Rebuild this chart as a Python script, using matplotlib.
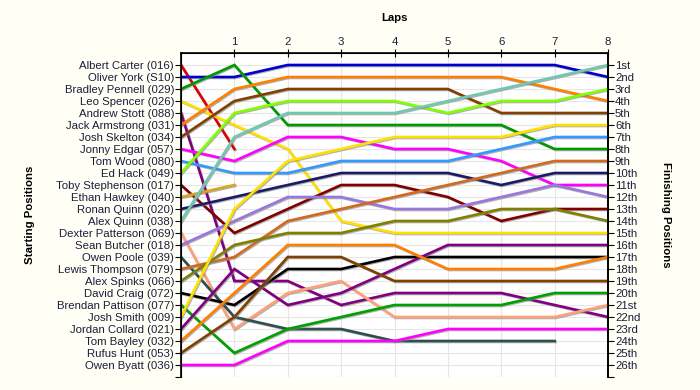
import matplotlib
matplotlib.use('Agg')
import matplotlib.pyplot as plt
import matplotlib.patheffects as pe
import numpy as np

drivers = ['Albert Carter (016)', 'Oliver York (S10)', 'Bradley Pennell (029)', 'Leo Spencer (026)',
           'Andrew Stott (088)', 'Jack Armstrong (031)', 'Josh Skelton (034)', 'Jonny Edgar (057)',
           'Tom Wood (080)', 'Ed Hack (049)', 'Toby Stephenson (017)', 'Ethan Hawkey (040)',
           'Ronan Quinn (020)', 'Alex Quinn (038)', 'Dexter Patterson (069)', 'Sean Butcher (018)',
           'Owen Poole (039)', 'Lewis Thompson (079)', 'Alex Spinks (066)', 'David Craig (072)',
           'Brendan Pattison (077)', 'Josh Smith (009)', 'Jordan Collard (021)', 'Tom Bayley (032)',
           'Rufus Hunt (053)', 'Owen Byatt (036)']

colors = ['#E00000', '#0000CC', '#009900', '#FFE000', '#800080', '#FF8000', '#804000', '#FF00FF',
          '#3399FF', '#80FF00', '#800000', '#DAA520', '#1A1A66', '#70C8B0', '#FFA07A', '#9977DD',
          '#2F4F4F', '#D2691E', '#808000', '#000000', '#00A000', '#FFE000', '#800080', '#FF8000',
          '#804000', '#FF00FF']

# position of each driver after each lap (lap 0 = grid)
positions = [
    [1, 8],
    [2, 2, 1, 1, 1, 1, 1, 1, 2],
    [3, 1, 6, 6, 6, 6, 6, 8, 8],
    [4, 6, 8, 14, 15, 15, 15, 15, 15],
    [5, 19, 19, 21, 20, 20, 20, 21, 22],
    [6, 3, 2, 2, 2, 2, 2, 3, 4],
    [7, 4, 3, 3, 3, 3, 5, 5, 5],
    [8, 9, 7, 7, 8, 8, 9, 11, 11],
    [9, 10, 10, 9, 9, 9, 8, 7, 7],
    [10, 5, 4, 4, 4, 5, 4, 4, 3],
    [11, 15, 13, 11, 11, 12, 14, 13, 13],
    [12, 11],
    [13, 12, 11, 10, 10, 10, 11, 10, 10],
    [14, 7, 5, 5, 5, 4, 3, 2, 1],
    [15, 23, 20, 19, 22, 22, 22, 22, 21],
    [16, 14, 12, 12, 13, 13, 12, 11, 12],
    [17, 22, 23, 23, 24, 24, 24, 24],
    [18, 17, 14, 13, 12, 11, 10, 9, 9],
    [19, 16, 15, 15, 14, 14, 13, 13, 14],
    [20, 21, 18, 18, 17, 17, 17, 17, 17],
    [21, 25, 23, 22, 21, 21, 21, 20, 20],
    [22, 13, 9, 8, 7, 7, 7, 6, 6],
    [23, 18, 21, 20, 18, 16, 16, 16, 16],
    [24, 20, 16, 16, 16, 18, 18, 18, 17],
    [25, 22, 17, 17, 19, 19, 19, 19, 19],
    [26, 26, 24, 24, 24, 23, 23, 23, 23],
]

laps = list(range(1, 9))
finish_labels = ['1st', '2nd', '3rd'] + ['%dth' % i for i in range(4, 21)] + \
                ['21st', '22nd', '23rd', '24th', '25th', '26th']

text_col = '#1C1C3C'
fs = 8.2
plt.rcParams['font.family'] = ['Liberation Sans', 'DejaVu Sans']

fig = plt.figure(figsize=(7, 3.9), dpi=100, facecolor='#FFFFF5')
ax = fig.add_axes([181/700, 1-377/390, 427/700, 324/390])
ax.set_facecolor('white')

shadow = [pe.SimpleLineShadow(offset=(0.7, -0.7), shadow_color='#808080', alpha=0.6), pe.Normal()]
for pos, c in zip(positions, colors):
    ax.plot(range(len(pos)), pos, color=c, lw=1.9, solid_joinstyle='miter', path_effects=shadow, zorder=3)

ax.set_xlim(0, 8)
ax.set_ylim(27, 0)
ax.set_xticks(laps)
ax.set_yticks(range(1, 28))
ax.set_yticklabels(drivers + [''], fontsize=fs, color=text_col)
ax.xaxis.tick_top()
ax.tick_params(axis='x', direction='inout', length=6, labelsize=fs, labelcolor=text_col, pad=1)
ax.tick_params(axis='y', direction='out', length=4, pad=1)
ax.grid(True, color='#E6E6E6', lw=0.8, zorder=0)
ax.spines['bottom'].set_visible(False)
for s in ['left', 'top', 'right']:
    ax.spines[s].set_linewidth(1.2)

ax2 = ax.twinx()
ax2.set_ylim(27, 0)
ax2.set_yticks(range(1, 28))
ax2.set_yticklabels(finish_labels + [''], fontsize=fs, color=text_col)
ax2.tick_params(axis='y', direction='out', length=4, pad=1)
ax2.spines['bottom'].set_visible(False)
ax2.spines['right'].set_linewidth(1.2)

fig.text(394/700, 1-18/390, 'Laps', fontsize=fs, fontweight='bold', ha='center', va='center')
fig.text(30/700, 1-215/390, 'Starting Positions', fontsize=fs, fontweight='bold',
         rotation=90, ha='center', va='center')
fig.text(666/700, 1-215/390, 'Finishing Positions', fontsize=fs, fontweight='bold',
         rotation=-90, ha='center', va='center')

fig.savefig('out.png', dpi=100, facecolor=fig.get_facecolor())
